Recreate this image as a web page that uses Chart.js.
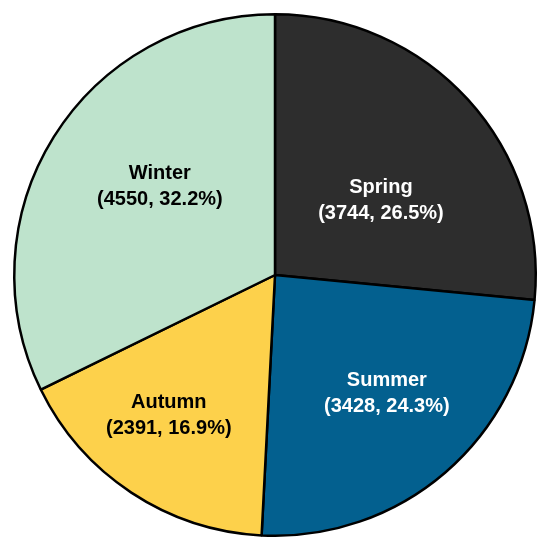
<!DOCTYPE html>
<html>
<head>
<meta charset="utf-8">
<script src="https://cdn.jsdelivr.net/npm/chart.js@4"></script>
<style>
  html, body { margin: 0; padding: 0; background: #fff; }
  canvas { display: block; }
</style>
</head>
<body>
<canvas id="seasonChart" width="550" height="547"></canvas>
<script>
// dados (sentido horário a partir do topo)
const seasons = ['Spring', 'Summer', 'Autumn', 'Winter'];
const counts = [3744, 3428, 2391, 4550];
const percents = ['26.5%', '24.3%', '16.9%', '32.2%'];

const sliceColors = ['#2d2d2d', '#03608f', '#fdd14b', '#bee3cc'];
const textColors = ['#ffffff', '#ffffff', '#000000', '#000000'];
// ajuste fino da posição dos rótulos (fração do raio, desvio em graus)
const labelRadius = [0.50, 0.62, 0.67, 0.56];
const labelShift = [6.6, -3, 4, 6];

const sliceLabels = {
  id: 'sliceLabels',
  afterDatasetsDraw(chart) {
    const ctx = chart.ctx;
    const arcs = chart.getDatasetMeta(0).data;
    ctx.save();
    ctx.font = 'bold 20px "Liberation Sans", Arial, sans-serif';
    ctx.textAlign = 'center';
    ctx.textBaseline = 'alphabetic';
    arcs.forEach((arc, i) => {
      const { x, y, startAngle, endAngle, outerRadius } = arc.getProps(['x', 'y', 'startAngle', 'endAngle', 'outerRadius'], true);
      const mid = (startAngle + endAngle) / 2 + labelShift[i] * Math.PI / 180;
      const r = outerRadius * labelRadius[i];
      const cx = x + Math.cos(mid) * r;
      const cy = y + Math.sin(mid) * r;
      ctx.fillStyle = textColors[i];
      ctx.fillText(seasons[i], cx, cy - 6);
      ctx.fillText(`(${counts[i]}, ${percents[i]})`, cx, cy + 20);
    });
    ctx.restore();
  }
};

new Chart(document.getElementById('seasonChart'), {
  type: 'pie',
  data: {
    labels: seasons,
    datasets: [{
      data: counts,
      backgroundColor: sliceColors,
      borderColor: '#000000',
      borderWidth: 2.5
    }]
  },
  options: {
    responsive: false,
    animation: false,
    layout: { padding: { top: 13, bottom: 10, left: 0, right: 0 } },
    plugins: {
      legend: { display: false },
      tooltip: { enabled: false }
    }
  },
  plugins: [sliceLabels]
});
</script>
</body>
</html>
